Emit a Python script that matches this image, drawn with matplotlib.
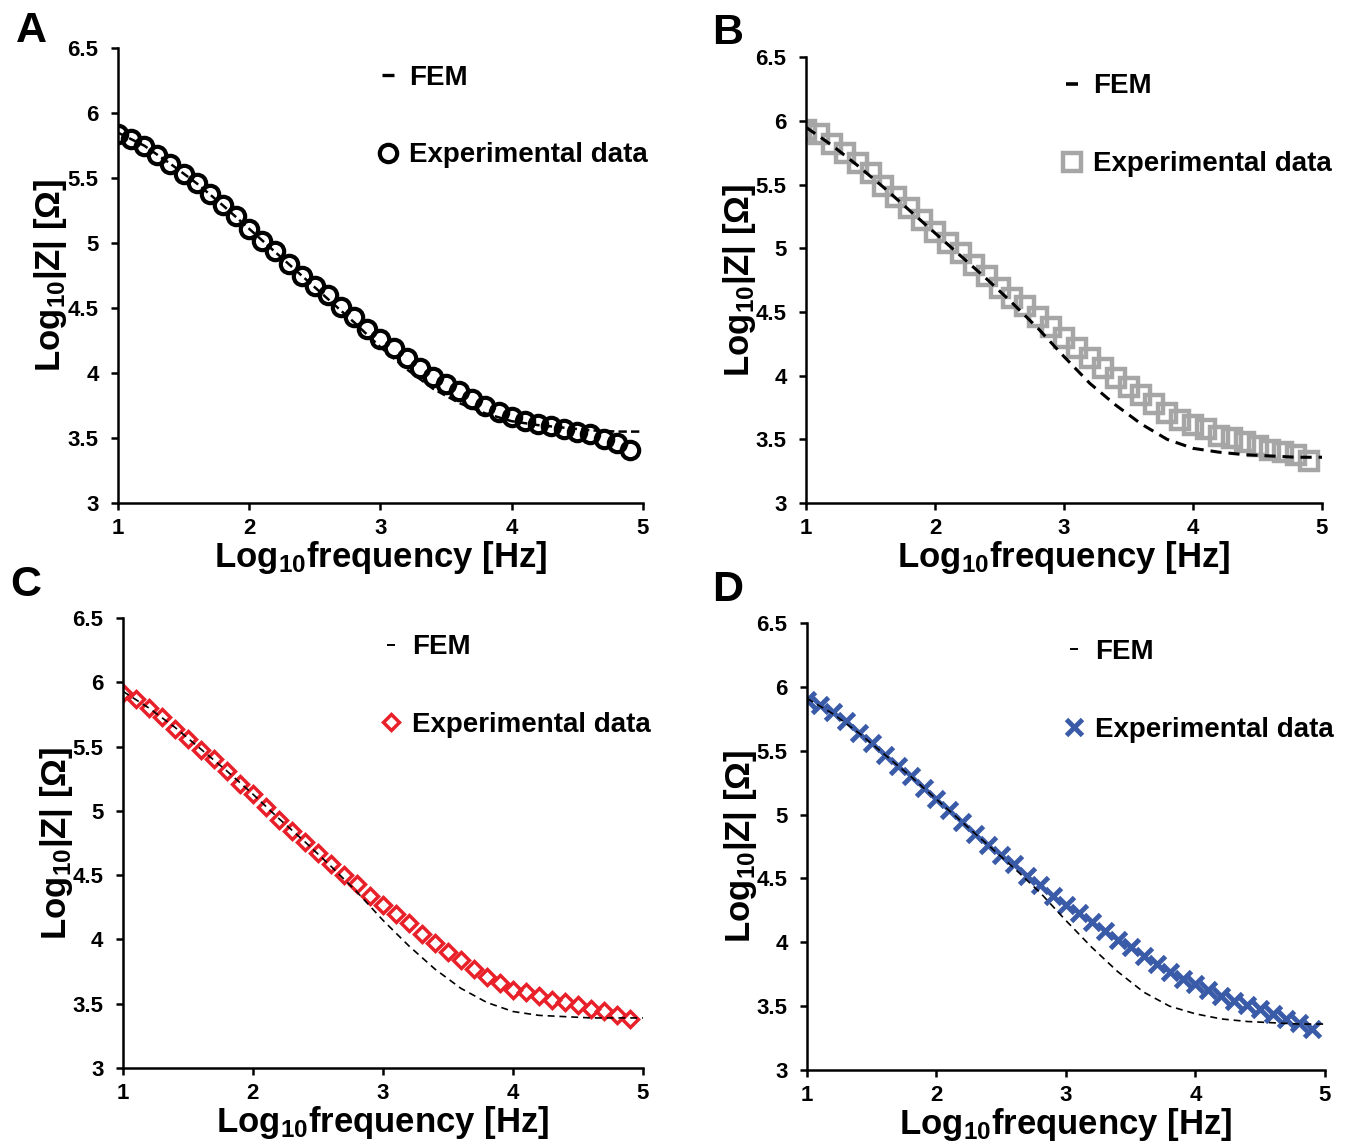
import matplotlib
matplotlib.use("Agg")
import matplotlib.pyplot as plt
from matplotlib.lines import Line2D

# measured points: log10 frequency (0.1 step) and log10 |Z|
freq_exp = [1.0, 1.1, 1.2, 1.3, 1.4, 1.5, 1.6, 1.7, 1.8, 1.9,
            2.0, 2.1, 2.2, 2.3, 2.4, 2.5, 2.6, 2.7, 2.8, 2.9,
            3.0, 3.1, 3.2, 3.3, 3.4, 3.5, 3.6, 3.7, 3.8, 3.9,
            4.0, 4.1, 4.2, 4.3, 4.4, 4.5, 4.6, 4.7, 4.8, 4.9]
freq_fem = [1.0, 1.2, 1.4, 1.6, 1.8, 2.0, 2.2, 2.4, 2.6, 2.8, 3.0,
            3.2, 3.4, 3.6, 3.8, 4.0, 4.2, 4.4, 4.6, 4.8, 5.0]

exp_a = [5.84, 5.80, 5.75, 5.68, 5.61, 5.53, 5.46, 5.38, 5.29, 5.21,
         5.11, 5.02, 4.94, 4.84, 4.75, 4.67, 4.60, 4.51, 4.43, 4.34,
         4.26, 4.19, 4.12, 4.04, 3.97, 3.92, 3.86, 3.80, 3.75, 3.70,
         3.66, 3.63, 3.61, 3.59, 3.57, 3.55, 3.53, 3.49, 3.46, 3.41]
fem_a = [5.85, 5.75, 5.61, 5.46, 5.29, 5.11, 4.93, 4.75, 4.57, 4.39, 4.20,
         4.03, 3.88, 3.77, 3.69, 3.63, 3.60, 3.58, 3.56, 3.55, 3.55]

exp_b = [5.93, 5.90, 5.82, 5.75, 5.67, 5.59, 5.49, 5.40, 5.32, 5.22,
         5.13, 5.04, 4.96, 4.87, 4.78, 4.69, 4.61, 4.55, 4.46, 4.38,
         4.30, 4.22, 4.14, 4.06, 3.98, 3.91, 3.85, 3.78, 3.71, 3.65,
         3.61, 3.58, 3.53, 3.51, 3.48, 3.45, 3.42, 3.40, 3.38, 3.33]
fem_b = [5.95, 5.81, 5.65, 5.48, 5.30, 5.12, 4.94, 4.76, 4.57, 4.37, 4.15,
         3.94, 3.77, 3.62, 3.50, 3.43, 3.40, 3.38, 3.37, 3.36, 3.36]

exp_c = [5.92, 5.87, 5.80, 5.73, 5.64, 5.56, 5.47, 5.40, 5.31, 5.21,
         5.13, 5.03, 4.93, 4.84, 4.76, 4.67, 4.59, 4.50, 4.43, 4.34,
         4.27, 4.20, 4.13, 4.04, 3.97, 3.90, 3.84, 3.77, 3.71, 3.66,
         3.61, 3.59, 3.56, 3.53, 3.51, 3.49, 3.46, 3.44, 3.41, 3.38]
fem_c = [5.93, 5.80, 5.65, 5.48, 5.31, 5.13, 4.94, 4.76, 4.57, 4.37, 4.15,
         3.95, 3.77, 3.62, 3.51, 3.44, 3.41, 3.40, 3.39, 3.39, 3.39]

exp_d = [5.90, 5.86, 5.80, 5.73, 5.64, 5.56, 5.47, 5.38, 5.30, 5.21,
         5.12, 5.04, 4.94, 4.85, 4.76, 4.68, 4.61, 4.52, 4.45, 4.36,
         4.29, 4.23, 4.16, 4.09, 4.02, 3.96, 3.89, 3.83, 3.77, 3.71,
         3.67, 3.63, 3.58, 3.54, 3.51, 3.48, 3.44, 3.40, 3.37, 3.32]
fem_d = [5.91, 5.79, 5.64, 5.47, 5.30, 5.12, 4.94, 4.76, 4.58, 4.39, 4.17,
         3.96, 3.77, 3.61, 3.50, 3.44, 3.40, 3.38, 3.37, 3.36, 3.36]

x_ticks = [1, 2, 3, 4, 5]
y_ticks = [3, 3.5, 4, 4.5, 5, 5.5, 6, 6.5]
y_tick_labels = ["3", "3.5", "4", "4.5", "5", "5.5", "6", "6.5"]

plt.rcParams.update({
    "font.family": ["Liberation Sans", "DejaVu Sans"],
    "font.weight": "bold",
    "mathtext.fontset": "custom",
    "mathtext.rm": "Liberation Sans:bold",
    "mathtext.default": "rm",
    "axes.spines.top": False,
    "axes.spines.right": False,
    "axes.linewidth": 1.8,
    "lines.scale_dashes": False,
})

panels = [
    # letter, axes rect, exp, fem, marker style, fem line style, legend dash
    ("A", [0.0877, 0.561, 0.3903, 0.397], exp_a, fem_a,
     dict(marker="o", ms=12.5, mew=3.0, mec="black", mfc="none"),
     dict(lw=1.8, dashes=(6, 3)), dict(ms=8, mew=2.4)),
    ("B", [0.5993, 0.561, 0.3836, 0.389], exp_b, fem_b,
     dict(marker="s", ms=12.5, mew=3.2, mec="#a6a6a6", mfc="none"),
     dict(lw=2.2, dashes=(8, 5)), dict(ms=8, mew=2.6)),
    ("C", [0.0914, 0.068, 0.3866, 0.3927], exp_c, fem_c,
     dict(marker="D", ms=8.6, mew=2.5, mec="#e8202a", mfc="none"),
     dict(lw=1.2, dashes=(5, 3.5)), dict(ms=6, mew=1.4)),
    ("D", [0.6000, 0.0663, 0.3851, 0.390], exp_d, fem_d,
     dict(marker="x", ms=11.5, mew=3.5, mec="#3a5ba8", mfc="none"),
     dict(lw=1.2, dashes=(5, 3.5)), dict(ms=6, mew=1.4)),
]
letter_pos = {"A": (0.023, 0.99), "B": (0.541, 0.989), "C": (0.019, 0.507), "D": (0.541, 0.503)}

fig = plt.figure(figsize=(13.45, 11.46), dpi=100)

for letter, rect, exp_vals, fem_vals, mstyle, lstyle, dash_style in panels:
    ax = fig.add_axes(rect)
    ax.plot(freq_exp, exp_vals, linestyle="none", zorder=2, **mstyle)
    ax.plot(freq_fem, fem_vals, color="black", linestyle="--", zorder=3, **lstyle)

    ax.set_xlim(1, 5)
    ax.set_ylim(3, 6.5)
    ax.set_xticks(x_ticks)
    ax.set_yticks(y_ticks)
    ax.set_yticklabels(y_tick_labels)
    ax.tick_params(axis="both", direction="out", length=5, width=1.8,
                   labelsize=16, pad=6)
    ax.tick_params(axis="y", pad=9)
    for lab in ax.get_xticklabels() + ax.get_yticklabels():
        lab.set_fontweight("bold")

    ax.set_xlabel("Log$_{10}$frequency [Hz]", fontsize=25, fontweight="bold")
    ax.set_ylabel("Log$_{10}$|Z| [Ω]", fontsize=25, fontweight="bold")
    ax.xaxis.set_label_coords(0.5, -0.08)
    ax.yaxis.set_label_coords(-0.093, 0.5)

    handles = [
        Line2D([], [], color="black", marker="_", linestyle="none", **dash_style),
        Line2D([], [], linestyle="none", **mstyle),
    ]
    ax.legend(handles, ["FEM", "Experimental data"], loc="upper left",
              bbox_to_anchor=(0.488, 0.964), frameon=False,
              handlelength=1.0, handletextpad=0.27, labelspacing=1.87,
              borderpad=0, borderaxespad=0,
              prop={"weight": "bold", "size": 20})

    fig.text(letter_pos[letter][0], letter_pos[letter][1], letter,
             fontsize=31, fontweight="bold", ha="center", va="top")

fig.savefig("out.png", dpi=100)
